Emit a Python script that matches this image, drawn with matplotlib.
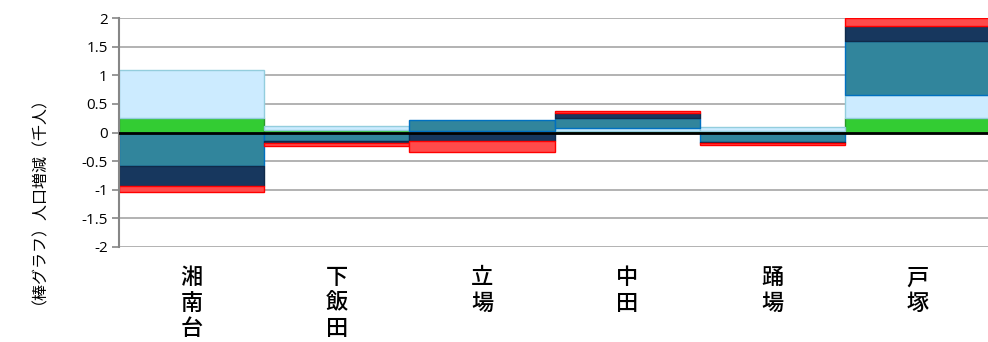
import numpy as np
import matplotlib
matplotlib.use("Agg")
import matplotlib.pyplot as plt

plt.rcParams['font.family'] = ['Noto Sans CJK JP', 'DejaVu Sans']

# 地区名
chiku = ["湘南台", "下飯田", "立場", "中田", "踊場", "戸塚"]

# 系列ごとの人口増減 (千人) - 図から読み取り
s_green = [0.25, 0.05, 0.00, 0.02, 0.02, 0.26]
s_lblue = [0.85, 0.07, 0.02, 0.06, 0.07, 0.40]
s_teal = [-0.58, -0.15, 0.20, 0.17, -0.17, 0.94]
s_navy = [-0.35, -0.03, -0.15, 0.09, -0.01, 0.26]
s_red = [-0.10, -0.05, -0.19, 0.03, -0.03, 0.14]

series = [s_green, s_lblue, s_teal, s_navy, s_red]
fills = ["#33CC33", "#CCEBFF", "#31859C", "#17375E", "#FF4B4B"]
edges = ["#2A9A2A", "#93CDDD", "#0070C0", "#0F2A4A", "#FF0000"]

fig = plt.figure(figsize=(9.88, 3.42), dpi=100)
ax = fig.add_axes([0.1204, 0.2778, 0.882, 0.669])

x = np.arange(len(chiku))
pos_bottom = np.zeros(len(chiku))
neg_bottom = np.zeros(len(chiku))
for vals, fc, ec in zip(series, fills, edges):
    v = np.array(vals)
    bottom = np.where(v >= 0, pos_bottom, neg_bottom)
    ax.bar(x, v, width=1.0, bottom=bottom, color=fc, edgecolor=ec, linewidth=1.0, zorder=2)
    pos_bottom += np.where(v >= 0, v, 0)
    neg_bottom += np.where(v < 0, v, 0)

ax.axhline(0, color="black", linewidth=2, zorder=3)

ax.set_xlim(-0.5, len(chiku) - 0.5)
ax.set_ylim(-2, 2)
ax.set_yticks(np.arange(-2, 2.01, 0.5))
ax.set_yticklabels(["-2", "-1.5", "-1", "-0.5", "0", "0.5", "1", "1.5", "2"],
                   fontsize=11, family=["Open Sans", "DejaVu Sans"])
ax.yaxis.grid(True, color="#A6A6A6", linewidth=1.2, zorder=0)
ax.set_axisbelow(True)

ax.set_xticks(x)
ax.set_xticklabels(["\n".join(n) for n in chiku], fontsize=16, linespacing=1.12,
                   fontweight="medium")
ax.tick_params(axis="x", length=0, pad=14)
ax.tick_params(axis="y", length=5, color="#868686", width=1.2, pad=3)

for s in ["top", "right", "bottom"]:
    ax.spines[s].set_visible(False)
ax.spines["left"].set_color("#868686")
ax.spines["left"].set_linewidth(1.5)

fig.text(0.031, 1 - 192 / 342, "（棒グラフ）人口増減（千人）", rotation=90,
         va="center", ha="center", fontsize=11.5)

fig.savefig("out.png", dpi=100)
